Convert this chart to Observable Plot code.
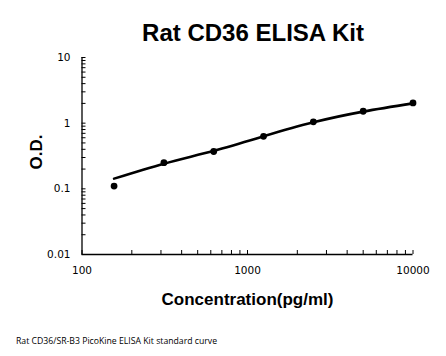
<!DOCTYPE html>
<html>
<head>
<meta charset="utf-8">
<script src="https://cdn.jsdelivr.net/npm/d3@7"></script>
<script src="https://cdn.jsdelivr.net/npm/@observablehq/plot@0.6"></script>
<style>
  html, body { margin: 0; padding: 0; background: #fff; }
  #wrap { position: relative; width: 446px; height: 356px; overflow: hidden; font-family: "Liberation Sans", Arial, sans-serif; color: #000; }
  #wrap svg { position: absolute; left: 0; top: 0; }
  .title { position: absolute; left: 0; width: 506px; top: 18px; text-align: center; font-weight: bold; font-size: 24px; line-height: 30px; }
  .xlab { position: absolute; left: 0; width: 495px; top: 289px; text-align: center; font-weight: bold; font-size: 17px; line-height: 22px; }
  .ylab { position: absolute; left: 37px; top: 152px; transform: translate(-50%, -50%) rotate(-90deg); font-weight: bold; font-size: 17px; line-height: 22px; white-space: nowrap; }
  .cap { position: absolute; left: 16px; top: 335px; font-family: "Open Sans", sans-serif; font-size: 8.7px; line-height: 12px; white-space: nowrap; }
</style>
</head>
<body>
<div id="wrap">
  <div class="title">Rat CD36 ELISA Kit</div>
  <div class="xlab">Concentration(pg/ml)</div>
  <div class="ylab">O.D.</div>
  <div class="cap">Rat CD36/SR-B3 PicoKine ELISA Kit standard curve</div>
</div>
<script>
// Standard concentrations (pg/ml)
const concentration = [156.25, 312.5, 625, 1250, 2500, 5000, 10000];
// Measured O.D. values
const od = [0.11, 0.25, 0.37, 0.63, 1.05, 1.52, 2.03];
// Fitted standard curve at each concentration
const fitOd = [0.143, 0.242, 0.38, 0.63, 1.03, 1.50, 2.0];

// Axis ticks
const xTicks = [100, 200, 300, 400, 500, 600, 700, 800, 900, 1000, 2000, 3000, 4000, 5000, 6000, 7000, 8000, 9000, 10000];
const xTickLabels = [100, 1000, 10000];
const yTicks = [0.01, 0.02, 0.03, 0.04, 0.05, 0.06, 0.07, 0.08, 0.09, 0.1, 0.2, 0.3, 0.4, 0.5, 0.6, 0.7, 0.8, 0.9, 1, 2, 3, 4, 5, 6, 7, 8, 9, 10];
const yTickLabels = [0.01, 0.1, 1, 10];

const points = concentration.map((c, i) => ({c, v: od[i]}));
const fit = concentration.map((c, i) => ({c, v: fitOd[i]}));

const W = 446, H = 356, mL = 81.5, mR = 33.5, mT = 57, mB = 102;
const frameW = W - mL - mR, frameH = H - mT - mB, tickLen = 4;

const chart = Plot.plot({
  width: W,
  height: H,
  marginLeft: mL,
  marginRight: mR,
  marginTop: mT,
  marginBottom: mB,
  style: {fontFamily: "DejaVu Sans", fontSize: "10.5px", color: "#000", background: "transparent"},
  x: {type: "log", domain: [100, 10000]},
  y: {type: "log", domain: [0.01, 10]},
  marks: [
    // inward tick marks
    Plot.ruleX(xTicks, {x: d => d, insetTop: frameH - tickLen, stroke: "#000", strokeWidth: 1}),
    Plot.ruleY(yTicks, {y: d => d, insetRight: frameW - tickLen, stroke: "#000", strokeWidth: 1}),
    // labels only
    Plot.axisX({ticks: xTickLabels, tickSize: 0, tickPadding: 12, label: null, tickFormat: d => String(d)}),
    Plot.axisY({ticks: yTickLabels, tickSize: 0, tickPadding: 11.5, label: null, tickFormat: d => String(d)}),
    Plot.ruleX([100], {stroke: "#000", strokeWidth: 1.3}),
    Plot.ruleY([0.01], {stroke: "#000", strokeWidth: 1.3}),
    Plot.line(fit, {x: "c", y: "v", curve: "natural", stroke: "#000", strokeWidth: 2.6}),
    Plot.dot(points, {x: "c", y: "v", r: 3.4, fill: "#000", stroke: "none"})
  ]
});
document.getElementById("wrap").appendChild(chart);
</script>
</body>
</html>
